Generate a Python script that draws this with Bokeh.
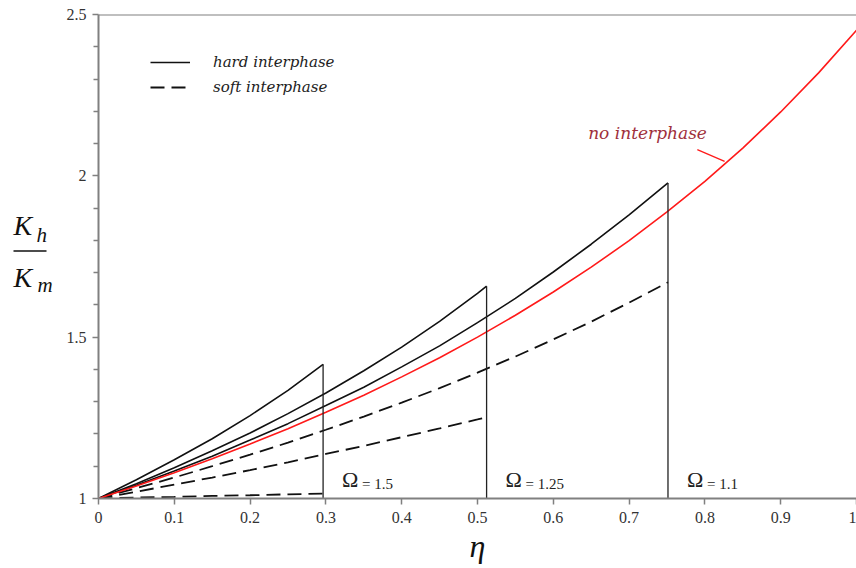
from bokeh.plotting import figure
from bokeh.layouts import row
from bokeh.models import FixedTicker, Span, Label, Legend, LegendItem, Arrow
from bokeh.core.properties import value
from bokeh.embed import file_html
from bokeh.resources import INLINE

# ---------------- data ----------------
eta_red = [0, 0.05, 0.1, 0.15, 0.2, 0.25, 0.3, 0.35, 0.4, 0.45, 0.5,
           0.55, 0.6, 0.65, 0.7, 0.75, 0.8, 0.85, 0.9, 0.95, 1.0]
k_red = [1.000, 1.039, 1.080, 1.123, 1.169, 1.216, 1.267, 1.320, 1.377, 1.436, 1.500,
         1.568, 1.640, 1.717, 1.799, 1.888, 1.983, 2.086, 2.198, 2.319, 2.451]

eta_11 = [0, 0.05, 0.1, 0.15, 0.2, 0.25, 0.3, 0.35, 0.4, 0.45, 0.5,
          0.55, 0.6, 0.65, 0.7, 0.7513]
k_hard_11 = [1.000, 1.041, 1.085, 1.131, 1.181, 1.232, 1.288, 1.345, 1.408, 1.473, 1.545,
             1.620, 1.702, 1.788, 1.879, 1.978]
k_soft_11 = [1.000, 1.032, 1.065, 1.100, 1.136, 1.173, 1.213, 1.254, 1.297, 1.342, 1.390,
             1.440, 1.493, 1.548, 1.607, 1.670]

eta_125 = [0, 0.05, 0.1, 0.15, 0.2, 0.25, 0.3, 0.35, 0.4, 0.45, 0.5, 0.512]
k_hard_125 = [1.000, 1.046, 1.095, 1.148, 1.203, 1.263, 1.327, 1.396, 1.469, 1.549, 1.636, 1.658]
k_soft_125 = [1.000, 1.021, 1.043, 1.065, 1.088, 1.112, 1.138, 1.163, 1.190, 1.217, 1.245, 1.252]

eta_15 = [0, 0.05, 0.1, 0.15, 0.2, 0.25, 0.2963]
k_hard_15 = [1.000, 1.058, 1.120, 1.185, 1.257, 1.335, 1.416]
k_soft_15 = [1.000, 1.003, 1.005, 1.008, 1.010, 1.013, 1.015]

omega_labels = ["1.5", "1.25", "1.1"]
eta_max = [eta_15[-1], eta_125[-1], eta_11[-1]]
hard_end = [k_hard_15[-1], k_hard_125[-1], k_hard_11[-1]]

x_ticks = [0, 0.1, 0.2, 0.3, 0.4, 0.5, 0.6, 0.7, 0.8, 0.9, 1.0]
x_tick_labels = ["0", "0.1", "0.2", "0.3", "0.4", "0.5", "0.6", "0.7", "0.8", "0.9", "1"]
y_ticks = [1, 1.5, 2, 2.5]
y_tick_labels = ["1", "1.5", "2", "2.5"]
y_minor = [1.1, 1.2, 1.3, 1.4, 1.6, 1.7, 1.8, 1.9, 2.1, 2.2, 2.3, 2.4]

SERIF = "Liberation Serif"
H = 568
LEFT_W = 58

# ---------------- main figure ----------------
p = figure(width=856 - LEFT_W, height=H, x_range=(0, 1), y_range=(1, 2.5),
           output_backend="svg", toolbar_location=None,
           min_border_left=98 - LEFT_W, min_border_right=0, min_border_top=14,
           min_border_bottom=H - 14 - 484)
p.outline_line_color = None
p.xgrid.visible = False
p.ygrid.visible = False

# ---------------- left strip with the y-axis label K_h / K_m ----------------
# shares the main figure's vertical scale so that its texts sit at the right heights
q = figure(width=LEFT_W, height=H, x_range=(0, LEFT_W), y_range=p.y_range,
           x_axis_type=None, y_axis_type=None,
           output_backend="svg", toolbar_location=None,
           min_border_left=0, min_border_right=0, min_border_top=14,
           min_border_bottom=H - 14 - 484)
q.outline_line_color = None
q.grid.visible = False
txt_kw = dict(text_font=value(SERIF), text_font_style="italic", text_color="#111111",
              text_baseline="middle")
# label heights are given in the K_h/K_m scale of the shared axis
y_kh, y_h, y_bar, y_km, y_m = 1.847, 1.816, 1.767, 1.685, 1.661
q.text(x=[13], y=[y_kh], text=["K"], text_font_size="28px", **txt_kw)
q.text(x=[36], y=[y_h], text=["h"], text_font_size="21px", **txt_kw)
q.segment(x0=[13], y0=[y_bar], x1=[46], y1=[y_bar], line_color="#111111", line_width=1.5)
q.text(x=[13], y=[y_km], text=["K"], text_font_size="28px", **txt_kw)
q.text(x=[37], y=[y_m], text=["m"], text_font_size="21px", **txt_kw)

for ax in (p.xaxis[0], p.yaxis[0]):
    ax.axis_line_color = "#808080"
    ax.axis_line_width = 2
    ax.major_tick_line_color = "#808080"
    ax.major_tick_line_width = 1.5
    ax.minor_tick_line_color = "#808080"
    ax.minor_tick_line_width = 1.5
    ax.major_tick_in = 0
    ax.major_tick_out = 6
    ax.minor_tick_in = 0
    ax.minor_tick_out = 5
    ax.major_label_text_font = SERIF
    ax.major_label_text_font_size = "16px"
    ax.major_label_text_color = "#333333"

p.xaxis.ticker = FixedTicker(ticks=x_ticks, minor_ticks=[])
p.xaxis.major_label_overrides = dict(zip(x_ticks, x_tick_labels))
p.xaxis.major_label_standoff = 7
p.xaxis.axis_label = "η"
p.xaxis.axis_label_text_font = SERIF
p.xaxis.axis_label_text_font_style = "italic"
p.xaxis.axis_label_text_font_size = "32px"
p.xaxis.axis_label_text_color = "#111111"
p.xaxis.axis_label_standoff = 2
p.yaxis.ticker = FixedTicker(ticks=y_ticks, minor_ticks=y_minor)
p.yaxis.major_label_overrides = dict(zip(y_ticks, y_tick_labels))
p.yaxis.major_label_standoff = 6

p.add_layout(Span(location=2.5, dimension="width", line_color="#808080", line_width=2))

# ---------------- curves ----------------
BLACK = "#111111"
DASH = "14 7"
r_h15 = p.line(eta_15, k_hard_15, line_color=BLACK, line_width=1.6)
p.line(eta_125, k_hard_125, line_color=BLACK, line_width=1.6)
p.line(eta_11, k_hard_11, line_color=BLACK, line_width=1.6)
r_s15 = p.line(eta_15, k_soft_15, line_color=BLACK, line_width=1.8, line_dash=DASH)
p.line(eta_125, k_soft_125, line_color=BLACK, line_width=1.8, line_dash=DASH)
p.line(eta_11, k_soft_11, line_color=BLACK, line_width=1.8, line_dash=DASH)
p.line(eta_red, k_red, line_color="#ff1a1a", line_width=1.6)

p.segment(x0=eta_max, y0=[1.0] * 3, x1=eta_max, y1=hard_end,
          line_color="#222222", line_width=1.3)

# ---------------- legend ----------------
legend = Legend(items=[LegendItem(label="hard interphase", renderers=[r_h15]),
                       LegendItem(label="soft interphase", renderers=[r_s15])],
                location=(52, 401), padding=0, margin=0, spacing=5,
                glyph_width=40, glyph_height=20, label_standoff=23,
                label_text_font="DejaVu Serif", label_text_font_style="italic",
                label_text_font_size="15px", label_text_color="#222222",
                background_fill_alpha=0, border_line_alpha=0)
p.add_layout(legend)

# ---------------- annotations ----------------
p.add_layout(Label(x=0.646, y=2.134, text="no interphase", text_font="DejaVu Serif",
                   text_font_style="italic", text_font_size="17px",
                   text_color="#a0303c", text_baseline="middle"))
p.add_layout(Arrow(x_start=0.79, y_start=2.081, x_end=0.826, y_end=2.045, end=None,
                   line_color="#ff1a1a", line_width=1.3))

for xm, lab in zip(eta_max, omega_labels):
    p.add_layout(Label(x=xm, y=1.0, x_offset=19, y_offset=19, text="Ω",
                       text_font=SERIF, text_font_size="22px", text_color="#222222",
                       text_baseline="middle"))
    p.add_layout(Label(x=xm, y=1.0, x_offset=39, y_offset=15, text="= " + lab,
                       text_font=SERIF, text_font_size="15px", text_color="#222222",
                       text_baseline="middle"))

layout = row(q, p, spacing=0)
open("out.html", "w").write(file_html(layout, INLINE))
